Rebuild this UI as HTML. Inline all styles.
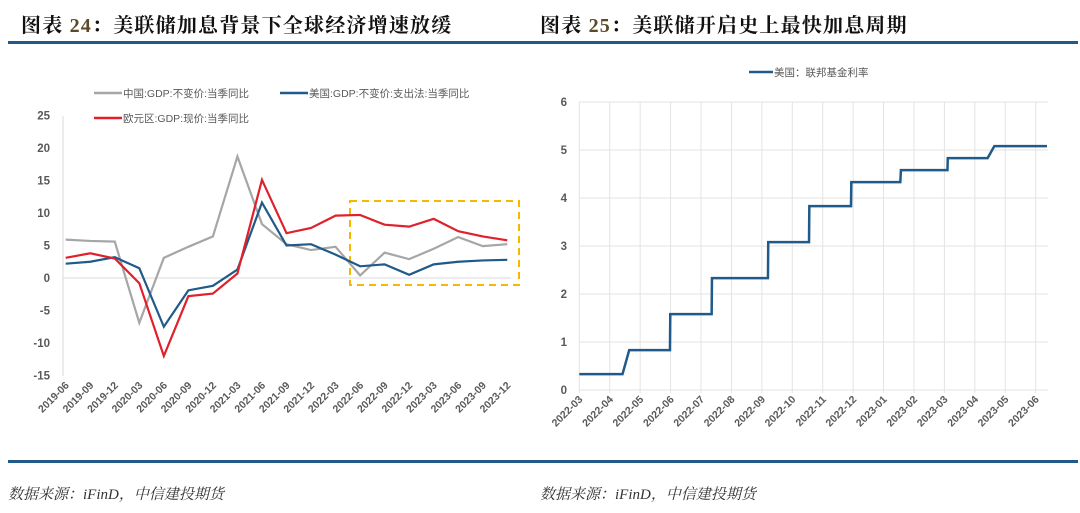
<!DOCTYPE html>
<html><head><meta charset="utf-8"><style>
body{margin:0;background:#fff;width:1080px;height:513px;overflow:hidden;font-family:"Liberation Serif","Noto Serif CJK SC",serif}
.t{position:absolute;top:9px;font-size:20px;letter-spacing:1.2px;color:#111;white-space:nowrap;font-weight:bold}
.t b{color:#5a4a2a;font-weight:bold}
.f{position:absolute;top:483px;font-size:15px;font-style:italic;color:#333}
</style></head><body>
<div class="t" style="left:21px">图表 <b>24</b>：美联储加息背景下全球经济增速放缓</div>
<div class="t" style="left:540px">图表 <b>25</b>：美联储开启史上最快加息周期</div>
<div style="position:absolute;left:8px;top:41px;width:1070px;height:3px;background:#1f5a8a"></div>
<div style="position:absolute;left:8px;top:460px;width:1070px;height:3px;background:#1f5a8a"></div>
<div class="f" style="left:8px">数据来源：iFinD，中信建投期货</div>
<div class="f" style="left:540px">数据来源：iFinD，中信建投期货</div>
<svg id="s" width="1080" height="513" style="position:absolute;left:0;top:0" font-family="Liberation Sans, Noto Sans CJK SC, sans-serif"></svg>
<script>
const gdpCats=["2019-06","2019-09","2019-12","2020-03","2020-06","2020-09","2020-12","2021-03","2021-06","2021-09","2021-12","2022-03","2022-06","2022-09","2022-12","2023-03","2023-06","2023-09","2023-12"];
const china=[5.9,5.7,5.6,-6.9,3.1,4.8,6.4,18.7,8.3,5.2,4.3,4.8,0.4,3.9,2.9,4.5,6.3,4.9,5.2];
const us=[2.2,2.5,3.2,1.5,-7.5,-1.9,-1.2,1.3,11.6,5.0,5.2,3.6,1.8,2.1,0.5,2.1,2.5,2.7,2.8];
const eu=[3.1,3.8,3.0,-0.8,-12.0,-2.8,-2.4,0.7,15.1,6.9,7.7,9.6,9.7,8.2,7.9,9.1,7.2,6.4,5.8];
const gdpTicks=[25,20,15,10,5,0,-5,-10,-15];
const fedMonths=["2022-03","2022-04","2022-05","2022-06","2022-07","2022-08","2022-09","2022-10","2022-11","2022-12","2023-01","2023-02","2023-03","2023-04","2023-05","2023-06"];
const fedT=[0,1.42,1.64,2.98,2.99,4.35,4.36,6.2,6.21,7.55,7.56,8.93,8.94,10.55,10.57,12.1,12.11,13.42,13.64,15.37];
const fedV=[0.33,0.33,0.83,0.83,1.58,1.58,2.33,2.33,3.08,3.08,3.83,3.83,4.33,4.33,4.58,4.58,4.83,4.83,5.08,5.08];
const fedTicks=[0,1,2,3,4,5,6];
const S=document.getElementById('s'),NS='http://www.w3.org/2000/svg';
function el(t,a,p){const e=document.createElementNS(NS,t);for(const k in a)e.setAttribute(k,a[k]);(p||S).appendChild(e);return e;}
const lx=i=>65.7+i*(507.3-65.7)/(gdpCats.length-1);
const ly=v=>278-v*6.5;
const g1=el('g',{});

el('line',{x1:63,y1:116,x2:63,y2:376,stroke:'#d9d9d9'},g1);
el('line',{x1:63,y1:ly(0),x2:511,y2:ly(0),stroke:'#d9d9d9'},g1);
gdpTicks.forEach(v=>{const t=el('text',{x:50,y:ly(v)+4,'text-anchor':'end','font-size':11.5,'font-weight':'bold',fill:'#595959'},g1);t.textContent=v;});
gdpCats.forEach((c,i)=>{const t=el('text',{x:lx(i)+4,y:386,'text-anchor':'end','font-size':10.5,'font-weight':'bold',fill:'#595959',transform:`rotate(-45 ${lx(i)+4} 386)`},g1);t.textContent=c;});
const box=el('rect',{x:350,y:201,width:169,height:84,fill:'none',stroke:'#f5b800','stroke-width':2,'stroke-dasharray':'7,5'},g1);

[[china,'#a6a6a6','china-gdp-line'],[us,'#1f5a8a','us-gdp-line'],[eu,'#e0202a','eu-gdp-line']].forEach(([d,c,n])=>{const p=el('polyline',{points:d.map((v,i)=>lx(i)+','+ly(v)).join(' '),fill:'none',stroke:c,'stroke-width':2.2},g1);});
[[94,93,'#a6a6a6','中国:GDP:不变价:当季同比'],[280,93,'#1f5a8a','美国:GDP:不变价:支出法:当季同比'],[94,118,'#e0202a','欧元区:GDP:现价:当季同比']].forEach(([x,y,c,s])=>{const g=el('g',{},g1);el('line',{x1:x,y1:y,x2:x+28,y2:y,stroke:c,'stroke-width':2.5},g);const t=el('text',{x:x+29,y:y+4,'font-size':10.5,fill:'#595959'},g);t.textContent=s;});
const rx=m=>579.3+m*(1035.7-579.3)/15;
const ry=v=>390-v*48;
const g2=el('g',{});

fedTicks.forEach(v=>{el('line',{x1:579,y1:ry(v),x2:1048,y2:ry(v),stroke:'#e3e3e3','stroke-width':1},g2);const t=el('text',{x:567,y:ry(v)+4,'text-anchor':'end','font-size':11.5,'font-weight':'bold',fill:'#595959'},g2);t.textContent=v;});
fedMonths.forEach((c,i)=>{el('line',{x1:rx(i),y1:102,x2:rx(i),y2:393,stroke:'#e3e3e3'},g2);const t=el('text',{x:rx(i)+4,y:400,'text-anchor':'end','font-size':10.5,'font-weight':'bold',fill:'#595959',transform:`rotate(-45 ${rx(i)+4} 400)`},g2);t.textContent=c;});
const fp=el('polyline',{points:fedT.map((m,i)=>rx(m)+','+ry(fedV[i])).join(' '),fill:'none',stroke:'#1f5a8a','stroke-width':2.5},g2);

const lg=el('g',{},g2);
el('line',{x1:749,y1:72,x2:773,y2:72,stroke:'#1f5a8a','stroke-width':2.5},lg);
const lt=el('text',{x:774,y:76,'font-size':10.5,fill:'#595959'},lg);lt.textContent='美国：联邦基金利率';
</script>
</body></html>
